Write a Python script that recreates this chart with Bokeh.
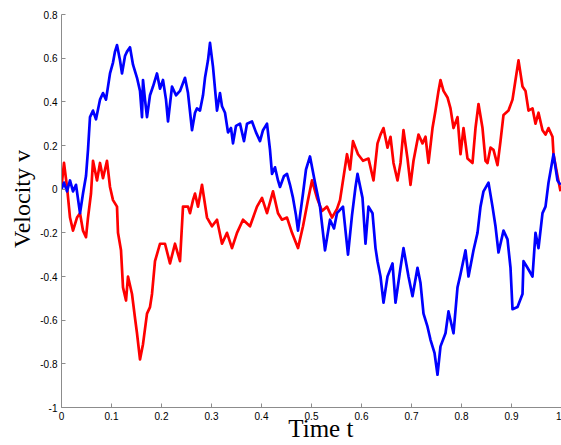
from bokeh.plotting import figure
from bokeh.models import Range1d, FixedTicker, CustomJSTickFormatter
from bokeh.embed import file_html
from bokeh.resources import INLINE

# Blue velocity path (time t, velocity v)
t_blue = [0.000, 0.005, 0.011, 0.017, 0.023, 0.029, 0.037, 0.043, 0.049, 0.053, 0.057, 0.063, 0.069,
          0.077, 0.083, 0.089, 0.097, 0.103, 0.107, 0.111, 0.117, 0.121, 0.127, 0.131, 0.137, 0.143,
          0.151, 0.157, 0.161, 0.163, 0.167, 0.171, 0.177, 0.183, 0.191, 0.197, 0.203, 0.209, 0.213,
          0.221, 0.229, 0.237, 0.247, 0.253, 0.261, 0.267, 0.271, 0.277, 0.283, 0.287, 0.293, 0.297,
          0.303, 0.311, 0.317, 0.321, 0.327, 0.333, 0.339, 0.343, 0.349, 0.357, 0.365, 0.371, 0.381,
          0.389, 0.397, 0.403, 0.411, 0.417, 0.421, 0.427, 0.433, 0.437, 0.445, 0.451, 0.457, 0.463,
          0.469, 0.473, 0.483, 0.489, 0.497, 0.507, 0.517, 0.527, 0.537, 0.545, 0.551, 0.563, 0.573,
          0.581, 0.588, 0.592, 0.602, 0.608, 0.614, 0.622, 0.628, 0.632, 0.638, 0.644, 0.652, 0.662,
          0.668, 0.678, 0.684, 0.694, 0.702, 0.712, 0.718, 0.724, 0.732, 0.738, 0.746, 0.752, 0.758,
          0.768, 0.774, 0.784, 0.792, 0.798, 0.808, 0.814, 0.824, 0.832, 0.838, 0.844, 0.854, 0.862,
          0.868, 0.874, 0.884, 0.892, 0.898, 0.902, 0.912, 0.922, 0.924, 0.932, 0.942, 0.948, 0.954,
          0.962, 0.968, 0.974, 0.984, 0.992, 0.998]
v_blue = [0.00, 0.03, -0.01, 0.04, -0.01, 0.02, -0.11, -0.02, 0.06, 0.18, 0.33, 0.36, 0.32,
          0.41, 0.44, 0.41, 0.53, 0.58, 0.63, 0.66, 0.59, 0.53, 0.61, 0.63, 0.65, 0.57,
          0.51, 0.45, 0.33, 0.50, 0.41, 0.33, 0.43, 0.47, 0.53, 0.46, 0.50, 0.41, 0.31,
          0.47, 0.43, 0.45, 0.51, 0.44, 0.27, 0.35, 0.37, 0.36, 0.43, 0.51, 0.59, 0.67,
          0.56, 0.36, 0.44, 0.38, 0.35, 0.26, 0.28, 0.21, 0.29, 0.30, 0.22, 0.30, 0.31,
          0.26, 0.22, 0.27, 0.30, 0.18, 0.07, 0.10, 0.04, 0.01, 0.06, 0.07, 0.02, -0.04,
          -0.12, -0.19, -0.02, 0.09, 0.15, 0.03, -0.08, -0.28, -0.14, -0.18, -0.11, -0.08, -0.30,
          -0.12, 0.01, 0.07, -0.04, -0.25, -0.08, -0.11, -0.27, -0.33, -0.40, -0.52, -0.40, -0.34,
          -0.52, -0.36, -0.27, -0.40, -0.49, -0.36, -0.43, -0.57, -0.63, -0.69, -0.75, -0.85, -0.72,
          -0.66, -0.56, -0.66, -0.45, -0.39, -0.28, -0.40, -0.28, -0.20, -0.08, -0.01, 0.03, -0.08,
          -0.17, -0.29, -0.19, -0.23, -0.36, -0.55, -0.54, -0.48, -0.33, -0.36, -0.40, -0.20, -0.27,
          -0.11, -0.08, 0.03, 0.16, 0.04, 0.02]

# Red velocity path (time t, velocity v)
t_red = [0.000, 0.005, 0.011, 0.017, 0.023, 0.031, 0.037, 0.043, 0.049, 0.053, 0.059, 0.063, 0.071,
         0.077, 0.083, 0.091, 0.097, 0.103, 0.111, 0.113, 0.119, 0.123, 0.129, 0.133, 0.141, 0.147,
         0.151, 0.157, 0.163, 0.171, 0.177, 0.181, 0.187, 0.197, 0.207, 0.217, 0.227, 0.237, 0.243,
         0.253, 0.257, 0.263, 0.267, 0.273, 0.281, 0.291, 0.301, 0.311, 0.321, 0.331, 0.341, 0.351,
         0.363, 0.377, 0.391, 0.401, 0.411, 0.423, 0.433, 0.441, 0.451, 0.461, 0.473, 0.483, 0.493,
         0.501, 0.511, 0.521, 0.531, 0.541, 0.551, 0.557, 0.563, 0.571, 0.577, 0.583, 0.593, 0.603,
         0.614, 0.624, 0.632, 0.638, 0.644, 0.652, 0.658, 0.664, 0.672, 0.678, 0.684, 0.692, 0.698,
         0.704, 0.714, 0.722, 0.728, 0.734, 0.742, 0.748, 0.754, 0.758, 0.764, 0.772, 0.778, 0.784,
         0.792, 0.798, 0.804, 0.812, 0.822, 0.828, 0.834, 0.842, 0.848, 0.852, 0.858, 0.864, 0.872,
         0.878, 0.884, 0.894, 0.902, 0.908, 0.914, 0.922, 0.928, 0.934, 0.942, 0.948, 0.954, 0.962,
         0.968, 0.974, 0.982, 0.984, 0.992, 0.998]
v_red = [0.01, 0.12, 0.01, -0.13, -0.19, -0.13, -0.11, -0.19, -0.22, -0.13, -0.02, 0.13, 0.04,
         0.12, 0.05, 0.13, 0.01, -0.05, -0.08, -0.20, -0.28, -0.45, -0.51, -0.40, -0.48, -0.59,
         -0.66, -0.78, -0.71, -0.57, -0.54, -0.48, -0.33, -0.25, -0.25, -0.34, -0.25, -0.33, -0.08,
         -0.08, -0.11, -0.05, -0.02, -0.08, 0.02, -0.13, -0.17, -0.14, -0.25, -0.20, -0.27, -0.20,
         -0.14, -0.17, -0.08, -0.04, -0.11, -0.01, -0.11, -0.14, -0.13, -0.20, -0.27, -0.17, -0.05,
         0.04, -0.04, -0.10, -0.08, -0.13, -0.09, -0.05, 0.04, 0.16, 0.09, 0.22, 0.16, 0.13,
         0.14, 0.04, 0.21, 0.25, 0.28, 0.19, 0.24, 0.12, 0.04, 0.12, 0.27, 0.14, 0.02,
         0.13, 0.25, 0.21, 0.24, 0.12, 0.28, 0.36, 0.45, 0.50, 0.45, 0.42, 0.37, 0.28,
         0.33, 0.16, 0.28, 0.14, 0.12, 0.28, 0.39, 0.28, 0.13, 0.12, 0.19, 0.18, 0.11,
         0.22, 0.34, 0.36, 0.41, 0.50, 0.59, 0.47, 0.45, 0.36, 0.37, 0.30, 0.35, 0.27,
         0.25, 0.28, 0.24, 0.16, 0.06, -0.01]

x_ticks = [0, 0.1, 0.2, 0.3, 0.4, 0.5, 0.6, 0.7, 0.8, 0.9, 1]
y_ticks = [-1, -0.8, -0.6, -0.4, -0.2, 0, 0.2, 0.4, 0.6, 0.8]
x_label = "\u00a0\u00a0\u00a0Time t"
y_label = "\u00a0\u00a0\u00a0\u00a0Velocity v"

p = figure(width=561, height=445, output_backend="svg", toolbar_location=None,
           x_range=Range1d(0, 1), y_range=Range1d(-1, 0.8),
           min_border_left=61, min_border_right=0, min_border_top=14, min_border_bottom=38)
p.outline_line_color = None
p.grid.visible = False
p.background_fill_color = "white"
p.border_fill_color = "white"

p.line(t_red, v_red, line_color="#ff0000", line_width=2.7, line_join="round")
p.line(t_blue, v_blue, line_color="#0000ff", line_width=2.7, line_join="round")

fmt = CustomJSTickFormatter(code="return (Math.round(tick*10)/10).toString();")
for ax, ticks in ((p.xaxis[0], x_ticks), (p.yaxis[0], y_ticks)):
    ax.ticker = FixedTicker(ticks=ticks)
    ax.formatter = fmt
    ax.axis_line_color = "#8c8c8c"
    ax.axis_line_width = 1
    ax.major_tick_line_color = "#8c8c8c"
    ax.major_tick_in = 4
    ax.major_tick_out = 0
    ax.minor_tick_line_color = None
    ax.major_label_text_font = "Liberation Sans"
    ax.major_label_text_font_size = "10px"
    ax.major_label_text_color = "#000000"
    ax.major_label_standoff = 4
    ax.axis_label_text_font = "Liberation Serif"
    ax.axis_label_text_font_style = "normal"
    ax.axis_label_text_color = "#000000"

p.xaxis[0].axis_label = x_label
p.xaxis[0].axis_label_text_font_size = "25px"
p.xaxis[0].axis_label_standoff = -8
p.yaxis[0].axis_label = y_label
p.yaxis[0].axis_label_text_font_size = "24px"
p.yaxis[0].axis_label_standoff = 2

open("out.html", "w").write(file_html(p, INLINE))
